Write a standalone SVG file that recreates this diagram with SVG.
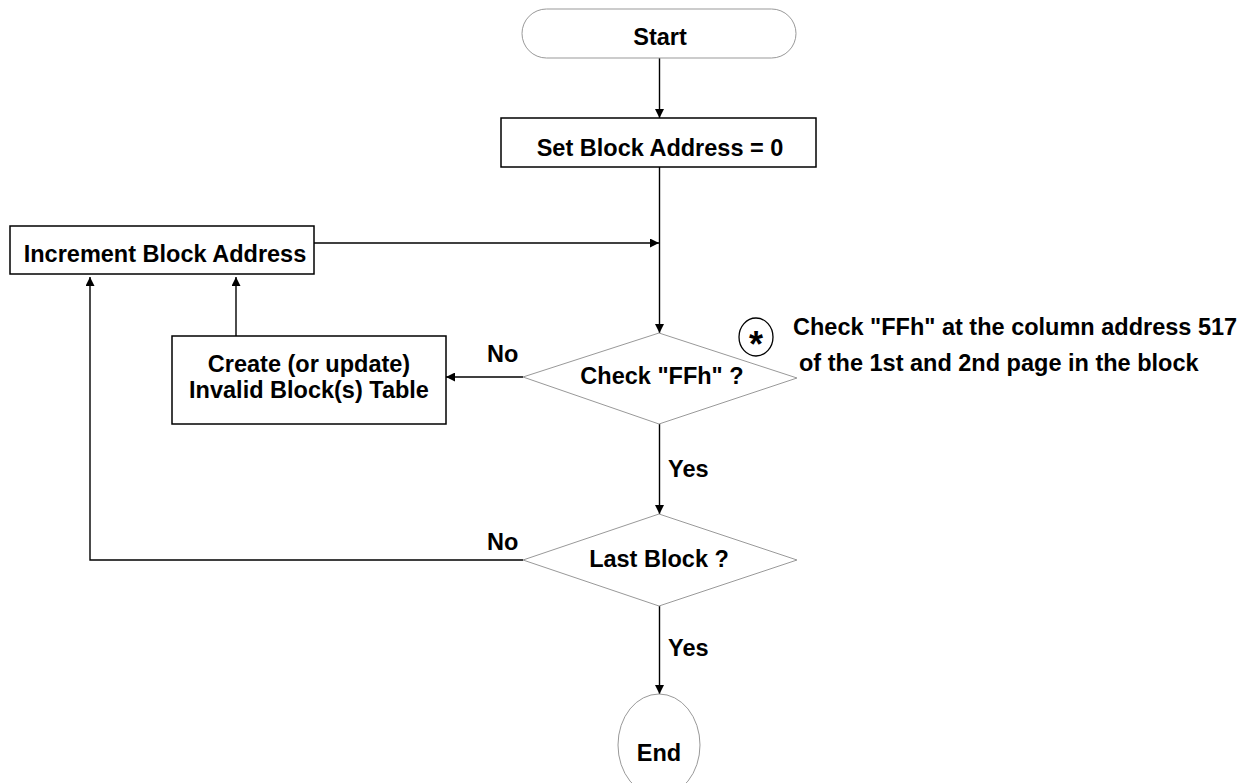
<svg xmlns="http://www.w3.org/2000/svg" width="1255" height="783" viewBox="0 0 1255 783">
<style>
  text { font-family: "Liberation Sans", Arial, sans-serif; font-weight: bold; font-size: 23.5px; fill: #000; }
  .mid { text-anchor: middle; }
  .box { fill: #fff; stroke: #000; stroke-width: 1.5; }
  .soft { fill: #fff; stroke: #999; stroke-width: 1; }
  .con { fill: none; stroke: #000; stroke-width: 1.4; }
</style>
<defs>
  <marker id="arr" viewBox="0 0 10 10" refX="10" refY="5" markerWidth="9" markerHeight="9" markerUnits="userSpaceOnUse" orient="auto">
    <path d="M0,0 L10,5 L0,10 z" fill="#000"/>
  </marker>
</defs>
<rect width="1255" height="783" fill="#fff"/>

<g id="connectors">
  <line class="con" x1="659.5" y1="58" x2="659.5" y2="118" marker-end="url(#arr)"/>
  <line class="con" x1="659.5" y1="167" x2="659.5" y2="333" marker-end="url(#arr)"/>
  <line class="con" x1="314" y1="243" x2="659" y2="243" marker-end="url(#arr)"/>
  <line class="con" x1="523" y1="377" x2="446" y2="377" marker-end="url(#arr)"/>
  <line class="con" x1="236" y1="336" x2="236" y2="277" marker-end="url(#arr)"/>
  <line class="con" x1="659.5" y1="424" x2="659.5" y2="514" marker-end="url(#arr)"/>
  <polyline class="con" points="523,560 90,560 90,277" marker-end="url(#arr)"/>
  <line class="con" x1="659.5" y1="606" x2="659.5" y2="694" marker-end="url(#arr)"/>
  <text x="487" y="362">No</text>
  <text x="487" y="550">No</text>
  <text x="668" y="477">Yes</text>
  <text x="668" y="656">Yes</text>
</g>

<g id="start">
  <rect class="soft" x="522" y="9" width="274" height="49" rx="24.5" ry="24.5"/>
  <text class="mid" x="660" y="45">Start</text>
</g>

<g id="set-block">
  <rect class="box" x="501" y="118" width="315" height="49"/>
  <text class="mid" x="660" y="156">Set Block Address = 0</text>
</g>

<g id="increment">
  <rect class="box" x="10" y="226" width="304" height="48"/>
  <text class="mid" x="165" y="262">Increment Block Address</text>
</g>

<g id="create-table">
  <rect class="box" x="172" y="336" width="274" height="88"/>
  <text class="mid" x="309" y="372">Create (or update)</text>
  <text class="mid" x="309" y="398">Invalid Block(s) Table</text>
</g>

<g id="check-ffh">
  <polygon class="soft" points="659,333 797,378 659,424 523,377"/>
  <text class="mid" x="662" y="384">Check "FFh" ?</text>
</g>

<g id="note">
  <ellipse cx="756" cy="337" rx="17" ry="19" fill="none" stroke="#000" stroke-width="1.3"/>
  <text class="mid" x="756" y="357" style="font-size:36px">*</text>
  <text x="793" y="335">Check "FFh" at the column address 517</text>
  <text x="799" y="371">of the 1st and 2nd page in the block</text>
</g>

<g id="last-block">
  <polygon class="soft" points="659,514 797,560 659,606 523,560"/>
  <text class="mid" x="659" y="567">Last Block ?</text>
</g>

<g id="end">
  <ellipse class="soft" cx="659" cy="745" rx="41" ry="51"/>
  <text class="mid" x="659" y="761">End</text>
</g>
</svg>
